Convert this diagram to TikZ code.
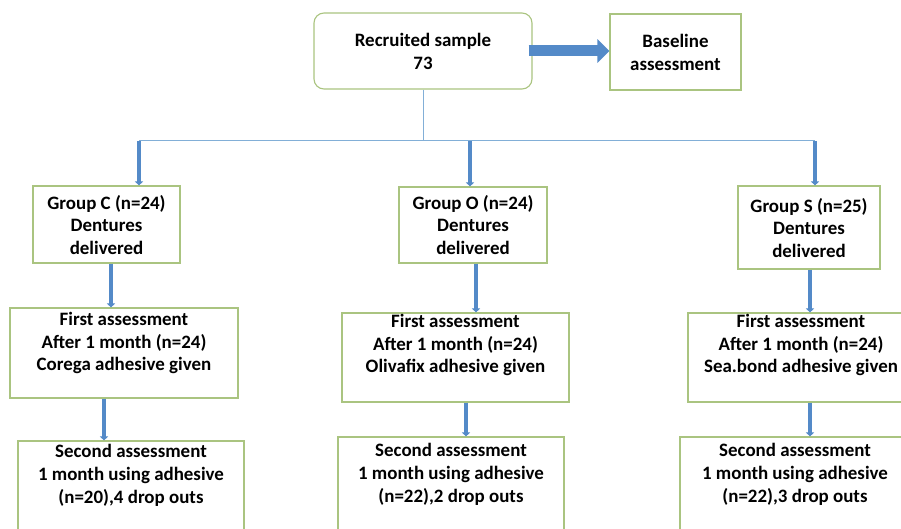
\documentclass[tikz,border=0pt]{standalone}
\usepackage{fontspec}
\setmainfont{Carlito}
\usetikzlibrary{arrows.meta}
\definecolor{boxgreen}{RGB}{170,196,128}
\definecolor{arrowblue}{RGB}{84,138,200}
\definecolor{lineblue}{RGB}{130,175,215}
\begin{document}
\begin{tikzpicture}[x=1bp,y=-1bp,
  box/.style={draw=boxgreen, line width=1.1bp, fill=white, inner sep=0pt},
  txt/.style={align=center, font=\bfseries\fontsize{19}{23}\selectfont, inner sep=0pt},
  thinline/.style={draw=lineblue, line width=1bp},
  downarrow/.style={draw=arrowblue, line width=4.5bp, -{Triangle[width=8bp,length=4bp]}},
  bigarrow/.style={draw=arrowblue, line width=11bp, -{Triangle[width=23bp,length=12bp]}}]
\useasboundingbox (0,0) rectangle (901,529);
\clip (0,0) rectangle (901,529);

% boxes
\node[box, rounded corners=10bp, minimum width=218bp, minimum height=76bp] (rec) at (423,51) {};
\node[box, minimum width=131bp, minimum height=76bp] (base) at (675.5,52) {};
\node[box, minimum width=147bp, minimum height=77bp] (gc) at (106.5,224.5) {};
\node[box, minimum width=148bp, minimum height=76bp] (go) at (473,225) {};
\node[box, minimum width=142bp, minimum height=83bp] (gs) at (809,227.5) {};
\node[box, minimum width=228bp, minimum height=90bp] (fc) at (124,353) {};
\node[box, minimum width=227bp, minimum height=89bp] (fo) at (455.5,357.5) {};
\node[box, minimum width=226bp, minimum height=89bp] (fs) at (801,357.5) {};
\node[box, minimum width=226bp, minimum height=99bp] (sc) at (131,490.5) {};
\node[box, minimum width=226bp, minimum height=103bp] (so) at (451,488.5) {};
\node[box, minimum width=230bp, minimum height=103bp] (ss) at (795,488.5) {};

% texts
\node[txt] (trec) at (423,51.5) {Recruited sample\\73};
\node[txt] (tbase) at (675.5,52) {Baseline\\assessment};
\node[txt] (tgc) at (106.5,225) {Group C (n=24)\\Dentures\\delivered};
\node[txt] (tgo) at (473,225) {Group O (n=24)\\Dentures\\delivered};
\node[txt] (tgs) at (809,228) {Group S (n=25)\\Dentures\\delivered};
\node[txt] (tfc) at (124,343) {First assessment\\After 1 month (n=24)\\Corega adhesive given};
\node[txt] (tfo) at (455.5,345) {First assessment\\After 1 month (n=24)\\Olivafix adhesive given};
\node[txt] (tfs) at (801,345) {First assessment\\After 1 month (n=24)\\Sea.bond adhesive given};
\node[txt] (tsc) at (131,475) {Second assessment\\1 month using adhesive\\(n=20),4 drop outs};
\node[txt] (tso) at (451,474) {Second assessment\\1 month using adhesive\\(n=22),2 drop outs};
\node[txt] (tss) at (795,474) {Second assessment\\1 month using adhesive\\(n=22),3 drop outs};

% connectors
\draw[bigarrow] ([xshift=-4bp]rec.east) -- (rec.east -| base.west);
\coordinate (hl) at (139,141);
\coordinate (hm) at (470,141);
\coordinate (hr) at (815,141);
\draw[thinline] (rec.south) -- (rec.south |- hl);
\draw[thinline] (hl) -- (hr);
\draw[downarrow] (hl) -- (hl |- gc.north);
\draw[downarrow] (hm) -- (hm |- go.north);
\draw[downarrow] (hr) -- (hr |- gs.north);
\draw[downarrow] (gc.south -| 111,0) -- (fc.north -| 111,0);
\draw[downarrow] (go.south -| 476,0) -- (fo.north -| 476,0);
\draw[downarrow] (gs.south -| 810,0) -- (fs.north -| 810,0);
\draw[downarrow] (fc.south -| 104,0) -- (sc.north -| 104,0);
\draw[downarrow] (fo.south -| 466,0) -- (so.north -| 466,0);
\draw[downarrow] (fs.south -| 810,0) -- (ss.north -| 810,0);
\end{tikzpicture}
\end{document}
